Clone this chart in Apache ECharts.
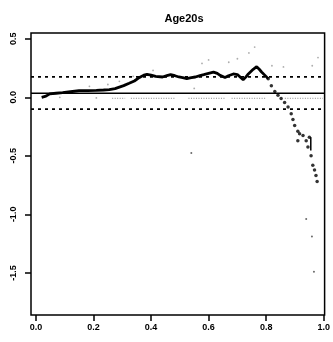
<!DOCTYPE html>
<html>
<head>
<meta charset="utf-8">
<script src="https://cdn.jsdelivr.net/npm/echarts@6/dist/echarts.min.js"></script>
<style>
  html, body { margin: 0; padding: 0; background: #fff; }
  #chart { width: 333px; height: 342px; }
</style>
</head>
<body>
<div id="chart"></div>
<script>
// axis ticks
const xTicks = [0, 0.2, 0.4, 0.6, 0.8, 1.0];
const xTickLabels = ['0.0', '0.2', '0.4', '0.6', '0.8', '1.0'];
const yTicks = [0.5, 0, -0.5, -1.0, -1.5];
const yTickLabels = ['0.5', '0.0', '-0.5', '-1.0', '-1.5'];

// reference lines
const solidLevel = 0.035;
const upperDash = 0.175;
const lowerDash = -0.1;

// main curve (dense part)
const curve = [
  [0.02, 0.0], [0.035, 0.01], [0.048, 0.03], [0.07, 0.035], [0.093, 0.04],
  [0.12, 0.048], [0.15, 0.057], [0.18, 0.058], [0.21, 0.06], [0.235, 0.063],
  [0.255, 0.066], [0.275, 0.075], [0.29, 0.088], [0.305, 0.1], [0.324, 0.12],
  [0.342, 0.14], [0.36, 0.17], [0.375, 0.19], [0.386, 0.197], [0.4, 0.19],
  [0.416, 0.18], [0.44, 0.174], [0.455, 0.185], [0.468, 0.194], [0.483, 0.185],
  [0.497, 0.174], [0.51, 0.168], [0.524, 0.16], [0.54, 0.168], [0.554, 0.174],
  [0.57, 0.186], [0.583, 0.194], [0.6, 0.205], [0.617, 0.216], [0.63, 0.205],
  [0.64, 0.188], [0.657, 0.17], [0.669, 0.185], [0.686, 0.2], [0.7, 0.195],
  [0.72, 0.15], [0.73, 0.175], [0.738, 0.2], [0.755, 0.24], [0.767, 0.262],
  [0.776, 0.24], [0.784, 0.217], [0.795, 0.19], [0.807, 0.16]
];

// sparse tail points
const tail = [
  [0.807, 0.16], [0.818, 0.10], [0.83, 0.05], [0.841, 0.017], [0.852, -0.01],
  [0.864, -0.045], [0.876, -0.083], [0.887, -0.14], [0.893, -0.19], [0.899, -0.24],
  [0.91, -0.29], [0.916, -0.31], [0.91, -0.37], [0.928, -0.325], [0.939, -0.37],
  [0.95, -0.34], [0.945, -0.425], [0.956, -0.5], [0.962, -0.58], [0.968, -0.62],
  [0.973, -0.667], [0.977, -0.72]
];
const tailBar = [[0.955, -0.34], [0.955, -0.455]];

// faint scattered points
const faint = [
  [0.407, 0.23], [0.577, 0.29], [0.6, 0.32], [0.67, 0.30], [0.70, 0.33],
  [0.74, 0.38], [0.76, 0.43], [0.82, 0.27], [0.86, 0.26], [0.98, 0.34],
  [0.96, 0.27], [0.55, 0.076], [0.083, 0.0], [0.21, -0.005], [0.338, 0.18],
  [0.186, 0.094], [0.25, 0.11], [0.29, 0.137]
];
// isolated dark points
const outliers = [[0.54, -0.476], [0.939, -1.04], [0.959, -1.19], [0.966, -1.49]];

// dotted row just below zero
const rowLevel = -0.008;
const rowSegments = [[0.265, 0.31], [0.33, 0.486], [0.53, 0.66], [0.68, 0.80], [0.865, 0.997]];

const xMin = -0.017, xMax = 1.003;
const yMin = -1.86, yMax = 0.55;

const chart = echarts.init(document.getElementById('chart'));

const hline = (v, type, width) => ({
  type: 'line',
  data: [[xMin, v], [xMax, v]],
  symbol: 'none',
  silent: true,
  lineStyle: { color: '#000', width: width, type: type },
  z: 2
});

const rowSeries = rowSegments.map((s) => ({
  type: 'line',
  data: [[s[0], rowLevel], [s[1], rowLevel]],
  symbol: 'none',
  silent: true,
  lineStyle: { color: '#888', width: 1, type: [1, 1.5] },
  z: 1
}));

chart.setOption({
  animation: false,
  title: {
    text: 'Age20s',
    left: 179,
    textAlign: 'center',
    top: 8,
    textStyle: { fontFamily: 'Liberation Sans', fontWeight: 'bold', fontSize: 11, color: '#000' }
  },
  grid: {
    left: 31, right: 6, top: 33, bottom: 27,
    show: true, borderColor: '#000', borderWidth: 1.5, backgroundColor: 'transparent'
  },
  xAxis: {
    type: 'value',
    min: xMin, max: xMax,
    axisLine: { show: false, onZero: false },
    splitLine: { show: false },
    axisTick: {
      show: true, length: 6, customValues: xTicks,
      lineStyle: { color: '#000', width: 1.5 }
    },
    axisLabel: {
      customValues: xTicks,
      formatter: (v) => xTickLabels[xTicks.findIndex((t) => Math.abs(t - v) < 1e-9)],
      margin: 8,
      fontFamily: 'Liberation Sans', fontWeight: 'bold', fontSize: 9, color: '#000'
    }
  },
  yAxis: {
    type: 'value',
    min: yMin, max: yMax,
    axisLine: { show: false, onZero: false },
    splitLine: { show: false },
    axisTick: {
      show: true, length: 6, customValues: yTicks,
      lineStyle: { color: '#000', width: 1.5 }
    },
    axisLabel: {
      customValues: yTicks,
      rotate: 90,
      formatter: (v) => yTickLabels[yTicks.findIndex((t) => Math.abs(t - v) < 1e-9)],
      margin: 13,
      fontFamily: 'Liberation Sans', fontWeight: 'bold', fontSize: 9, color: '#000'
    }
  },
  series: [
    hline(solidLevel, 'solid', 1.5),
    hline(upperDash, [3, 4], 1.8),
    hline(lowerDash, [3, 4], 1.8),
    ...rowSeries,
    {
      type: 'line',
      data: curve,
      symbol: 'none',
      lineStyle: { color: '#000', width: 2.8 },
      z: 5
    },
    {
      type: 'scatter',
      data: tail,
      symbolSize: 3.5,
      itemStyle: { color: '#000' },
      z: 5
    },
    {
      type: 'line',
      data: tailBar,
      symbol: 'none',
      lineStyle: { color: '#000', width: 1.5 },
      z: 5
    },
    {
      type: 'scatter',
      data: faint,
      symbolSize: 1.8,
      itemStyle: { color: '#999' },
      z: 3
    },
    {
      type: 'scatter',
      data: outliers,
      symbolSize: 2,
      itemStyle: { color: '#444' },
      z: 3
    }
  ]
});
</script>
</body>
</html>
